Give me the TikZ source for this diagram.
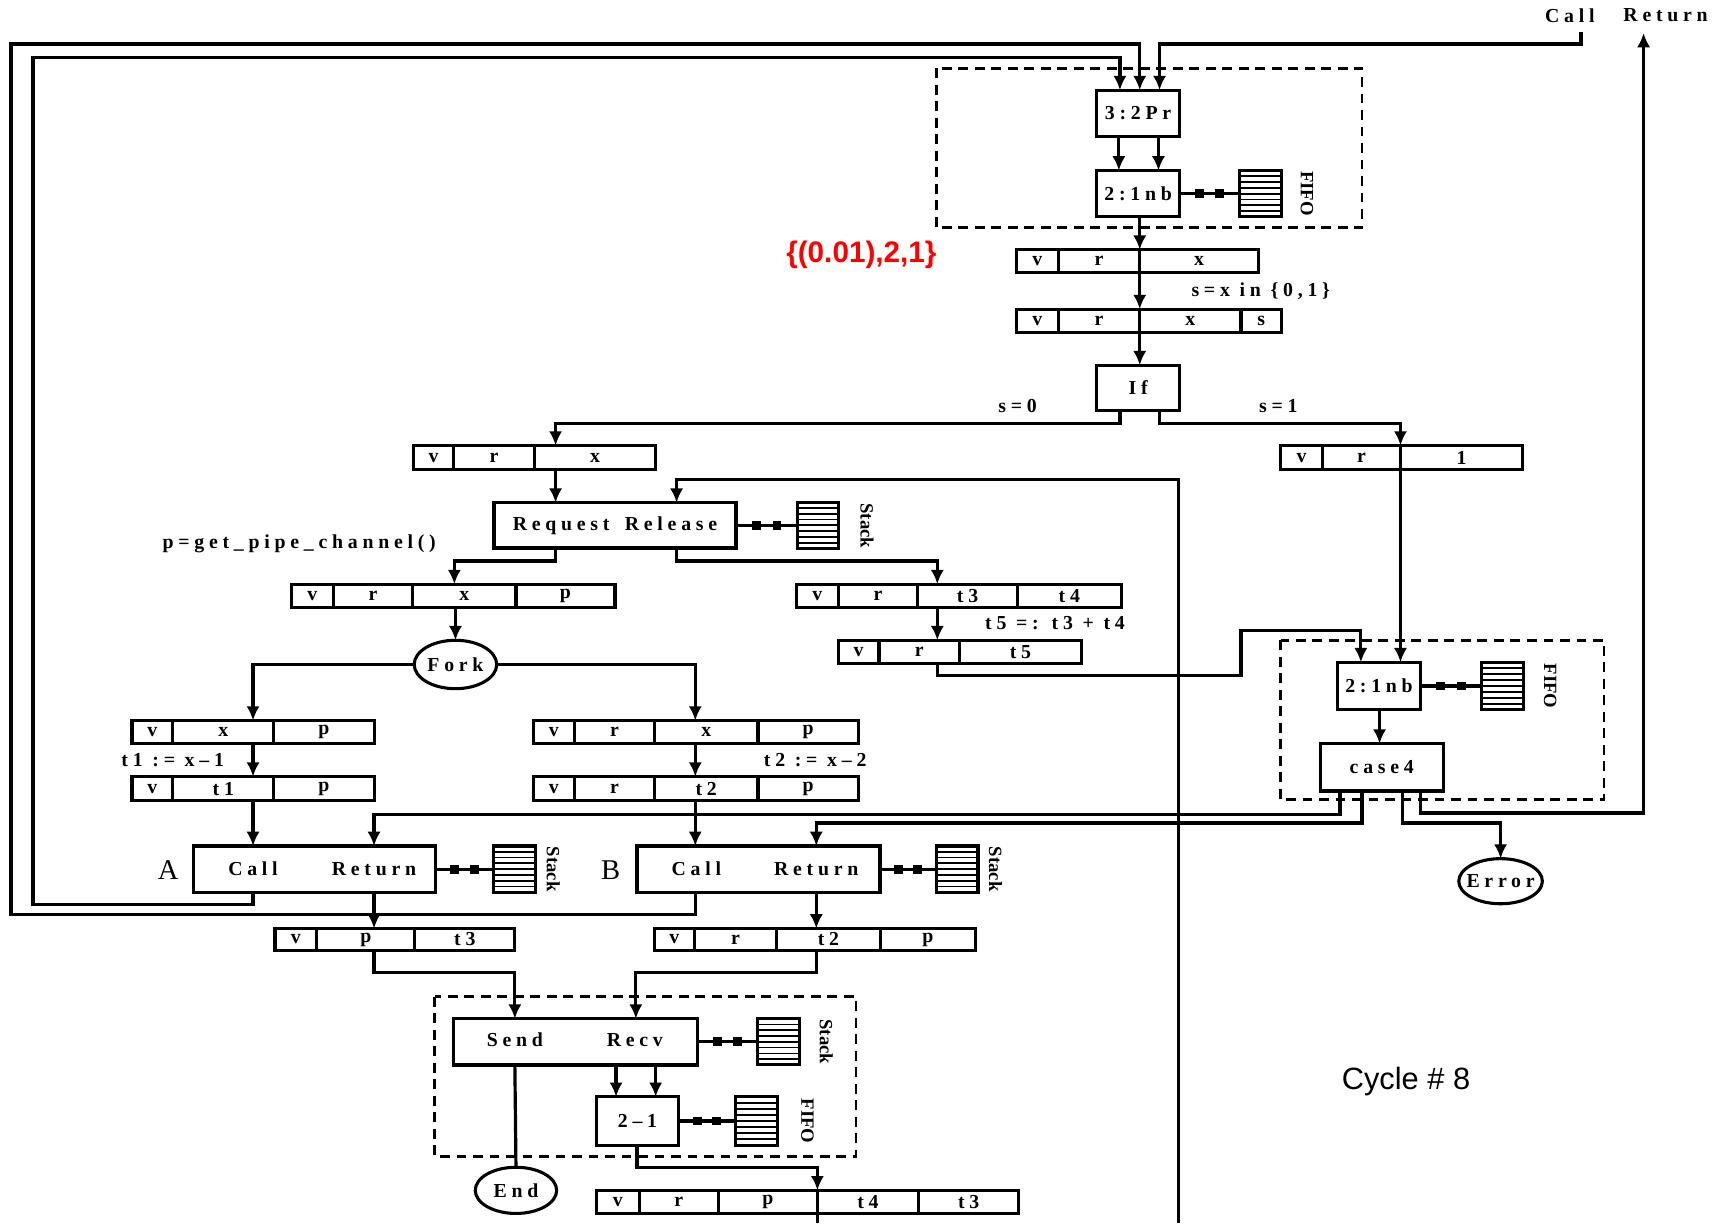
\documentclass[tikz,border=0pt]{standalone}
\usepackage{fontspec}
\setmainfont{Liberation Serif}
\newfontfamily\lblfam[LetterSpace=24]{Liberation Serif}
\newfontfamily\arialfont{Liberation Sans}
\newcommand\lbl{\lblfam\bfseries\fontsize{18}{20}\selectfont}
\newcommand\rlbl{\bfseries\fontsize{17}{17}\selectfont}
\usetikzlibrary{arrows.meta,shapes.geometric,calc}
\newcommand\tupl[6]{%
  \node[minimum width={#3-#2}, minimum height={#5-#4}] (#1) at ({(#2+#3)/2},{(#4+#5)/2}) {};
  \foreach \xa/\xb/\lab in {#6}{
    \node[cellbox, minimum width={\xb-\xa}, minimum height={#5-#4}] at ({(\xa+\xb)/2},{(#4+#5)/2}) {\lab};
  }%
}
\newcommand\dotlink[2]{\draw[ln] (#1.east) -- (#2.west) node[pos=0.33, sq]{} node[pos=0.67, sq]{};}
\begin{document}
\begin{tikzpicture}[x=1pt,y=-1pt,
  every node/.style={inner sep=0pt, outer sep=0pt},
  ln/.style={line width=2.9pt},
  arr/.style={ln,-{Latex[length=13pt,width=12pt]}},
  boxn/.style={draw, rectangle, line width=3pt, font=\lbl},
  cellbox/.style={draw, rectangle, line width=2.8pt, font=\lbl},
  ell/.style={draw, ellipse, line width=2.8pt},
  sq/.style={fill, rectangle, minimum size=8pt},
  dbox/.style={line width=2.5pt, dash pattern=on 9pt off 6pt},
  stackbox/.style={draw, rectangle, line width=2.8pt, minimum width=38, minimum height=42,
    path picture={
      \foreach \k in {1,...,7}{
        \draw[line width=1.6pt] ($(path picture bounding box.north west)!\k/8!(path picture bounding box.south west)$) -- ($(path picture bounding box.north east)!\k/8!(path picture bounding box.south east)$);
      }
    }},
  rl/.style={rotate=-90, font=\rlbl}
]
\fill[white] (0,0) rectangle (1568,1112);
\useasboundingbox (0,0) rectangle (1568,1112);

% dashed groups
\draw[dbox] (851,62) rectangle (1238,207);
\draw[dbox] (1164,582) rectangle (1458,727);
\draw[dbox] (395,906) rectangle (778,1051);

% boxes
\node[boxn, minimum width=75, minimum height=42] (pr) at (1034.5,103) {3:2Pr};
\node[boxn, minimum width=75, minimum height=42] (nb1) at (1034.5,176) {2:1nb};
\node[boxn, minimum width=75, minimum height=41] (if) at (1034.5,352.5) {If};
\node[boxn, minimum width=220, minimum height=41] (rr) at (559,477.5) {};
\node[font=\lbl] at (rr) {Request\hspace{14pt}Release};
\node[boxn, minimum width=220, minimum height=42] (A) at (286,790) {};
\node[font=\lbl] at (230,790) {Call};
\node[font=\lbl] at (340,790) {Return};
\node[boxn, minimum width=221, minimum height=42] (B) at (689.5,790) {};
\node[font=\lbl] at (633,790) {Call};
\node[font=\lbl] at (742,790) {Return};
\node[boxn, minimum width=222, minimum height=42] (sr) at (523,947) {};
\node[font=\lbl] at (468,945) {Send};
\node[font=\lbl] at (577,945) {Recv};
\node[boxn, minimum width=75, minimum height=44] (m21) at (579.5,1019) {2–1};
\node[boxn, minimum width=75, minimum height=43] (nb2) at (1253.5,623.5) {2:1nb};
\node[boxn, minimum width=112, minimum height=43] (c4) at (1256,697.5) {case4};

% ellipses
\node[ell, minimum width=75, minimum height=44] (fork) at (414,604) {};
\node[font=\lbl] at (fork) {Fork};
\node[ell, minimum width=74, minimum height=42] (end) at (469,1082) {};
\node[font=\lbl] at (end) {End};
\node[ell, minimum width=76, minimum height=41] (err) at (1364,801) {};
\node[font=\lbl] at (err) {Error};

% stacks
\node[stackbox] (s1) at (1146,176) {};
\node[rl] at (1188,176) {FIFO};
\node[stackbox] (s2) at (743.5,477.5) {};
\node[rl] at (788,478) {Stack};
\node[stackbox] (s3) at (467.5,790) {};
\node[rl] at (503,790) {Stack};
\node[stackbox] (s4) at (870,790) {};
\node[rl] at (905,790) {Stack};
\node[stackbox] (s5) at (707.5,947) {};
\node[rl] at (751,947) {Stack};
\node[stackbox, minimum height=44] (s6) at (687.5,1019) {};
\node[rl] at (734,1019) {FIFO};
\node[stackbox, minimum height=43] (s7) at (1365.5,623.5) {};
\node[rl] at (1409,623.5) {FIFO};

\dotlink{nb1}{s1}
\dotlink{rr}{s2}
\dotlink{A}{s3}
\dotlink{B}{s4}
\dotlink{sr}{s5}
\dotlink{m21}{s6}
\dotlink{nb2}{s7}

% tuples
\tupl{T1}{924}{1144}{227}{248}{924/962/v, 962/1036/r, 1036/1144/x}
\tupl{T2}{924}{1165}{281}{302}{924/962/v, 962/1036/r, 1036/1128/x, 1128/1165/s}
\tupl{T3}{376}{596}{405}{427}{376/412/v, 412/486/r, 486/596/x}
\tupl{T4}{1164}{1384}{405}{427}{1164/1202/v, 1202/1273/r, 1273/1384/1}
\tupl{T5}{265}{559}{531}{552}{265/303/v, 303/375/r, 375/469/x, 469/559/p}
\tupl{T6}{724}{1019}{531}{552}{724/762/v, 762/834/r, 834/925/t3, 925/1019/t4}
\tupl{T7}{762}{983}{582}{603}{762/799/v, 799/872/r, 872/983/t5}
\tupl{T8}{120}{340}{655}{676}{120/157/v, 157/249/x, 249/340/p}
\tupl{T9}{120}{340}{706}{728}{120/157/v, 157/249/t1, 249/340/p}
\tupl{T10}{485}{780}{655}{676}{485/522/v, 522/595/r, 595/689/x, 689/780/p}
\tupl{T11}{485}{780}{706}{728}{485/522/v, 522/595/r, 595/689/t2, 689/780/p}
\tupl{T12}{250}{468}{844}{864}{250/288/v, 288/377/p, 377/468/t3}
\tupl{T13}{595}{887}{844}{864}{595/631/v, 631/706/r, 706/800/t2, 800/887/p}
\tupl{T14}{542}{926}{1082}{1103}{542/581/v, 581/653/r, 653/743/p, 743/835/t4, 835/926/t3}

% labels
\node[font=\lbl] (callL) at (1427,14) {Call};
\node[font=\lbl] (retL) at (1514,14) {Return};
\coordinate (callS) at (1437,29);
\coordinate (retS) at (1494,30);
\coordinate (botA) at (1071,1112);
\coordinate (botB) at (743,1112);
\node[font=\lbl] at (1146,265) {s=x in \{0,1\}};
\node[font=\lbl] at (925,369) {s=0};
\node[font=\lbl] at (1162,369) {s=1};
\node[font=\lbl] at (272,494) {p=get\_pipe\_channel()};
\node[font=\lbl] at (959,566) {t5 =: t3 + t4};
\node[font=\lbl] at (157,691) {t1 := x–1};
\node[font=\lbl] at (741,691) {t2 := x–2};
\node[font=\fontsize{26}{26}\selectfont] at (153,791) {A};
\node[font=\fontsize{26}{26}\selectfont] at (555,791) {B};
\node[text=red, font=\arialfont\bfseries\fontsize{27}{30}\selectfont] at (783,232) {\{(0.01),2,1\}};
\node[font=\arialfont\fontsize{28}{30}\selectfont] at (1278,983) {Cycle \# 8};

% connectors
\draw[arr] (callS) -- (1437,40) -- (1054,40) -- (1054,0 |- pr.north);
\draw[arr] (1291,0 |- c4.south) -- (1291,739) -- (1494,739) -- (retS);
\draw[arr] (632,0 |- B.south) -- (632,831) -- (10,831) -- (10,40) -- (1036,40) -- (1036,0 |- pr.north);
\draw[arr] (230,0 |- A.south) -- (230,822) -- (30,822) -- (30,52) -- (1018,52) -- (1018,0 |- pr.north);
\draw[arr] (1017,0 |- pr.south) -- (1017,0 |- nb1.north);
\draw[arr] (1053,0 |- pr.south) -- (1053,0 |- nb1.north);
\draw[arr] (1036,0 |- nb1.south) -- (1036,0 |- T1.north);
\draw[arr] (1036,0 |- T1.south) -- (1036,0 |- T2.north);
\draw[arr] (1036,0 |- T2.south) -- (1036,0 |- if.north);
\draw[arr] (1018,0 |- if.south) -- (1018,385) -- (505,385) -- (505,0 |- T3.north);
\draw[arr] (1054,0 |- if.south) -- (1054,385) -- (1273,385) -- (1273,0 |- T4.north);
\draw[arr] (1273,0 |- T4.south) -- (1273,0 |- nb2.north);
\draw[arr] (505,0 |- T3.south) -- (505,0 |- rr.north);
\draw[arr] (botA) -- (1071,436) -- (615,436) -- (615,0 |- rr.north);
\draw[arr] (505,0 |- rr.south) -- (505,510) -- (413,510) -- (413,0 |- T5.north);
\draw[arr] (615,0 |- rr.south) -- (615,510) -- (852,510) -- (852,0 |- T6.north);
\draw[arr] (fork.north |- T5.south) -- (fork.north);
\draw[arr] (852,0 |- T6.south) -- (852,0 |- T7.north);
\draw[arr] (852,0 |- T7.south) -- (852,614) -- (1128,614) -- (1128,573) -- (1237,573) -- (1237,0 |- nb2.north);
\draw[arr] (1254,0 |- nb2.south) -- (1254,0 |- c4.north);
\draw[arr] (1218,0 |- c4.south) -- (1218,740) -- (340,740) -- (340,0 |- A.north);
\draw[arr] (1238,0 |- c4.south) -- (1238,748) -- (742,748) -- (742,0 |- B.north);
\draw[arr] (1275,0 |- c4.south) -- (1275,748) -- (1364,748) -- (err.north);
\draw[arr] (fork.west) -- (230,0 |- fork.west) -- (230,0 |- T8.north);
\draw[arr] (fork.east) -- (632,0 |- fork.east) -- (632,0 |- T10.north);
\draw[arr] (230,0 |- T8.south) -- (230,0 |- T9.north);
\draw[arr] (632,0 |- T10.south) -- (632,0 |- T11.north);
\draw[arr] (230,0 |- T9.south) -- (230,0 |- A.north);
\draw[arr] (632,0 |- T11.south) -- (632,0 |- B.north);
\draw[arr] (340,0 |- A.south) -- (340,0 |- T12.north);
\draw[arr] (742,0 |- B.south) -- (742,0 |- T13.north);
\draw[arr] (340,0 |- T12.south) -- (340,884) -- (468,884) -- (468,0 |- sr.north);
\draw[arr] (742,0 |- T13.south) -- (742,884) -- (578,884) -- (578,0 |- sr.north);
\draw[arr] (560,0 |- sr.south) -- (560,0 |- m21.north);
\draw[arr] (596,0 |- sr.south) -- (596,0 |- m21.north);
\draw[ln] (468,0 |- sr.south) -- (end.north);
\draw[arr] (579,0 |- m21.south) -- (579,1061) -- (743,1061) -- (743,0 |- T14.north);
\draw[ln] (743,0 |- T14.south) -- (botB);
\end{tikzpicture}
\end{document}
